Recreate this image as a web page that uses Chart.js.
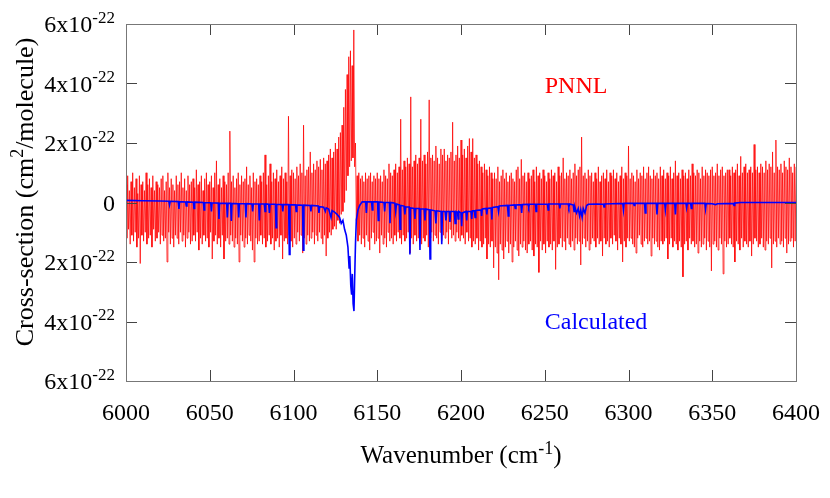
<!DOCTYPE html>
<html>
<head>
<meta charset="utf-8">
<script src="https://cdn.jsdelivr.net/npm/chart.js@4.4.1/dist/chart.umd.min.js"></script>
<style>
  body { margin: 0; background: #fff; }
  canvas { display: block; }
  #aquece { position: absolute; left: -9999px; top: 0; font-family: "Liberation Serif"; font-size: 24px; }
</style>
</head>
<body>
<canvas id="grafico" width="830" height="498"></canvas>
<div id="aquece">Wavenumber 6000 x10 PNNL Calculated</div>
<script>
// cross-section values in units of 1e-22 cm^2/molecule

// PNNL: local max / min of the measured trace, one pair per 1 cm-1
const binStart = 6000

// maxima at 6000, 6001, ... 6400
const pnnlHigh = [
  0.6, 0.9, 0.4, 0.7, 1.0, 0.5, 0.8, 0.3, 0.9, 0.6,
  0.7, 0.4, 1.0, 0.6, 0.8, 0.5, 0.9, 0.4, 0.7, 0.6,
  0.5, 0.8, 0.9, 0.4, 0.7, 1.0, 0.5, 0.8, 0.6, 0.4,
  0.9, 0.6, 0.7, 1.0, 0.5, 0.8, 0.4, 0.9, 0.6, 0.7,
  0.8, 0.5, 1.1, 0.6, 0.7, 0.9, 0.4, 0.8, 1.0, 0.6,
  0.7, 0.9, 0.5, 1.0, 1.4, 0.6, 0.8, 0.5, 0.9, 0.7,
  0.6, 1.0, 2.4, 0.7, 0.9, 0.5, 0.8, 1.0, 0.6, 0.9,
  0.7, 0.8, 1.2, 0.6, 0.9, 0.5, 1.0, 0.7, 0.8, 0.6,
  0.9, 0.7, 1.0, 1.6, 0.6, 0.9, 1.3, 0.7, 1.0, 0.8,
  1.1, 0.7, 0.9, 1.2, 0.8, 1.0, 0.7, 2.9, 0.9, 1.1,
  1.0, 0.8, 1.2, 0.9, 1.3, 1.0, 2.6, 0.9, 1.1, 1.2,
  1.7, 1.0, 1.3, 1.1, 1.4, 1.2, 1.45, 1.1, 1.5, 1.3,
  1.4, 1.6, 1.8, 1.5, 1.7, 2.0, 1.8, 2.2, 2.35, 2.6,
  3.2, 3.8, 4.3, 4.9, 5.1, 4.6, 5.8, 2.0, 0.9, 1.0,
  0.8, 0.9, 0.7, 1.0, 0.8, 0.9, 1.0, 0.7, 0.9, 0.8,
  1.0, 0.8, 0.9, 0.7, 1.1, 0.9, 0.8, 1.3, 1.0, 0.9,
  1.1, 1.3, 1.0, 1.2, 2.8, 1.1, 1.4, 1.2, 1.5, 1.3,
  3.55, 1.2, 1.4, 1.6, 1.3, 1.5, 2.8, 1.4, 1.6, 1.3,
  1.7, 3.45, 1.5, 1.6, 1.4, 1.9, 1.5, 1.3, 1.8, 1.6,
  1.8, 1.4, 1.6, 1.5, 1.7, 2.7, 1.4, 1.6, 1.9, 1.5,
  2.1, 1.6, 1.8, 1.5, 1.9, 2.15, 1.7, 2.15, 1.5, 1.6,
  1.3, 1.4, 1.2, 1.0, 1.3, 1.1, 0.9, 1.2, 1.0, 0.8,
  1.0, 0.8, 1.2, 0.7, 0.9, 1.1, 0.8, 1.0, 0.7, 0.9,
  1.0, 0.8, 0.7, 1.1, 1.2, 0.8, 1.45, 0.9, 1.0, 0.7,
  1.0, 0.8, 0.9, 1.1, 0.7, 1.2, 0.9, 1.0, 0.8, 1.1,
  0.9, 0.7, 1.0, 0.8, 1.1, 0.9, 1.0, 0.7, 1.2, 0.9,
  1.0, 1.5, 0.8, 1.0, 0.9, 1.1, 0.8, 1.0, 1.3, 0.9,
  1.1, 1.2, 2.2, 0.9, 1.0, 0.8, 1.1, 0.9, 1.0, 0.7,
  1.0, 0.8, 1.2, 0.7, 0.9, 1.0, 0.8, 1.1, 0.7, 1.0,
  0.9, 1.1, 0.8, 1.0, 0.7, 0.9, 1.2, 0.8, 1.0, 0.9,
  1.9, 0.8, 1.0, 0.9, 0.7, 1.1, 0.8, 1.0, 0.9, 1.2,
  0.8, 1.0, 1.2, 0.9, 0.8, 1.1, 0.9, 1.0, 0.8, 1.2,
  0.9, 1.1, 0.8, 1.0, 0.9, 1.2, 0.8, 1.0, 1.4, 0.9,
  1.0, 0.8, 1.1, 0.9, 1.0, 0.8, 1.1, 0.9, 1.3, 1.0,
  0.9, 1.1, 1.0, 0.8, 1.2, 0.9, 1.1, 1.0, 0.9, 1.1,
  1.2, 0.9, 1.0, 1.3, 0.9, 1.1, 1.2, 0.9, 1.0, 1.1,
  1.1, 0.9, 1.2, 1.0, 1.1, 1.3, 0.9, 1.55, 1.0, 1.2,
  1.3, 1.0, 1.1, 1.2, 1.0, 1.95, 1.1, 1.2, 1.0, 1.3,
  1.2, 1.0, 1.4, 1.1, 1.3, 1.2, 1.7, 1.0, 2.1, 1.2,
  1.1, 1.3, 1.0, 1.4, 1.2, 1.1, 1.5, 1.2, 1.0, 1.3,
  1.2
]

// minima at 6000.5, 6001.5, ... 6399.5
const pnnlLow = [
  -1.2, -0.9, -1.4, -1.1, -1.3, -1.0, -1.5, -1.2, -2.05, -1.1,
  -1.3, -1.0, -1.4, -1.2, -1.1, -1.5, -0.9, -1.3, -1.2, -1.0,
  -1.4, -1.1, -1.3, -1.2, -2.0, -1.0, -1.4, -1.2, -1.5, -1.1,
  -1.2, -1.4, -1.0, -1.3, -1.1, -1.5, -1.2, -1.0, -1.4, -1.3,
  -1.1, -1.3, -1.0, -1.6, -1.2, -1.4, -1.1, -1.3, -1.2, -1.5,
  -1.0, -1.9, -1.3, -1.1, -1.4, -1.2, -1.5, -1.1, -1.9, -1.3,
  -1.2, -1.4, -1.1, -1.3, -1.5, -1.2, -1.4, -2.0, -1.1, -1.3,
  -1.5, -1.2, -1.4, -1.1, -1.3, -1.6, -2.0, -1.2, -1.4, -1.3,
  -1.1, -1.4, -1.2, -1.5, -1.3, -1.1, -1.4, -1.2, -1.6, -1.3,
  -1.2, -1.5, -1.1, -1.9, -1.3, -1.2, -1.4, -1.1, -1.3, -1.5,
  -1.2, -1.4, -1.0, -1.3, -1.1, -1.7, -1.2, -1.4, -1.1, -1.3,
  -1.2, -1.0, -1.4, -1.1, -1.3, -1.0, -1.2, -1.4, -1.1, -1.8,
  -1.2, -1.0, -1.1, -0.9, -0.8, -0.9, -0.6, -0.7, -0.4, -0.3,
  0.0, 0.4, 0.9, 1.2, 1.4, 1.5, 1.2, -0.6, -1.3, -1.1,
  -1.4, -1.2, -1.5, -1.1, -1.3, -1.6, -1.2, -1.0, -1.4, -1.3,
  -1.2, -1.7, -1.1, -1.4, -1.2, -1.5, -1.0, -1.3, -1.2, -1.4,
  -1.1, -1.3, -1.0, -1.2, -1.4, -1.1, -1.3, -1.2, -1.0, -1.7,
  -1.2, -1.4, -1.1, -1.3, -1.2, -1.0, -1.4, -1.2, -1.3, -1.1,
  -1.5, -1.2, -1.0, -1.3, -1.1, -1.2, -1.4, -1.0, -1.3, -1.1,
  -1.2, -1.0, -1.4, -0.9, -1.2, -1.1, -1.3, -1.0, -1.2, -1.3,
  -1.1, -1.2, -1.4, -1.0, -1.3, -1.2, -1.5, -1.3, -1.4, -1.2,
  -1.6, -1.3, -1.5, -1.4, -1.2, -1.9, -1.4, -1.5, -1.3, -2.2,
  -1.5, -1.7, -2.6, -1.4, -1.6, -1.9, -1.5, -1.3, -1.7, -1.4,
  -2.0, -1.5, -1.3, -1.6, -1.8, -1.4, -1.5, -1.3, -1.6, -1.7,
  -1.4, -1.3, -1.6, -1.8, -1.4, -1.5, -2.35, -1.3, -1.6, -1.4,
  -1.7, -1.3, -1.5, -1.4, -1.6, -1.3, -2.25, -1.5, -1.4, -1.2,
  -1.5, -1.3, -1.6, -1.2, -1.4, -1.5, -1.3, -1.6, -1.2, -1.4,
  -1.3, -2.1, -1.4, -1.2, -1.5, -1.3, -1.6, -1.4, -1.2, -1.3,
  -1.5, -1.2, -1.4, -1.3, -1.8, -1.2, -1.4, -1.3, -1.5, -1.2,
  -1.4, -1.1, -1.3, -1.6, -1.2, -1.4, -2.0, -1.3, -1.5, -1.2,
  -1.3, -1.2, -1.4, -1.5, -1.7, -1.2, -1.1, -1.4, -1.5, -1.3,
  -1.2, -1.4, -1.3, -1.8, -1.2, -1.4, -1.3, -1.5, -1.6, -1.3,
  -1.4, -1.3, -1.2, -1.9, -1.4, -1.2, -1.5, -1.3, -1.4, -1.6,
  -1.3, -1.5, -2.5, -1.4, -1.3, -1.6, -1.2, -1.4, -1.3, -1.5,
  -1.4, -1.7, -1.3, -1.5, -1.4, -1.2, -1.6, -1.3, -1.5, -2.3,
  -1.4, -1.3, -1.5, -1.6, -1.2, -1.4, -2.4, -1.3, -1.5, -1.4,
  -1.2, -1.4, -1.5, -2.0, -1.3, -1.4, -1.6, -1.2, -1.5, -1.3,
  -1.4, -1.5, -1.3, -1.8, -1.4, -1.2, -1.3, -1.5, -1.4, -1.2,
  -1.5, -1.6, -1.3, -1.4, -1.2, -2.2, -1.4, -1.3, -1.5, -1.2,
  -1.4, -1.3, -1.5, -1.2, -1.7, -1.4, -1.3, -1.2, -1.5, -1.3
]

// calculated spectrum: [wavenumber, value]
const calcPoints = [
  [6000, 0.07], [6010, 0.06], [6020, 0.05],
  [6025.6, 0.04], [6026, -0.08], [6026.4, 0.04],
  [6031.2, 0.03], [6031.6, -0.22], [6032, 0.03],
  [6035.6, 0.02], [6036, -0.12], [6036.4, 0.02],
  [6040.2, 0.01], [6040.6, -0.2], [6041, 0.01],
  [6046.2, 0], [6046.6, -0.25], [6047, 0],
  [6050.6, -0.01], [6051, -0.3], [6051.4, -0.01],
  [6055.1, -0.02], [6055.5, -0.55], [6055.9, -0.02],
  [6060.1, -0.03], [6060.5, -0.5], [6060.9, -0.03],
  [6062.5, -0.03], [6062.9, -0.62], [6063.3, -0.03],
  [6066.9, -0.04], [6067.3, -0.5], [6067.7, -0.04],
  [6071.2, -0.04], [6071.6, -0.5], [6072, -0.04],
  [6075.2, -0.05], [6075.6, -0.3], [6076, -0.05],
  [6079.2, -0.05], [6079.6, -0.6], [6080, -0.05],
  [6082.6, -0.05], [6083, -0.3], [6083.4, -0.05],
  [6085.2, -0.06], [6085.6, -0.35], [6086, -0.06],
  [6089.2, -0.06], [6089.6, -0.85], [6090, -0.06],
  [6093.2, -0.07], [6093.6, -0.3], [6094, -0.07],
  [6097.1, -0.07], [6097.5, -1.75], [6097.9, -0.07],
  [6101.2, -0.08], [6101.6, -0.3], [6102, -0.08],
  [6105.4, -0.09], [6105.8, -1.6], [6106.2, -0.09],
  [6110, -0.1], [6110.4, -0.3], [6110.8, -0.1],
  [6114.8, -0.12], [6115.2, -0.35], [6115.6, -0.14],
  [6118, -0.16], [6119, -0.3], [6119.5, -0.18],
  [6121, -0.22], [6122.4, -0.5], [6123, -0.27],
  [6124.5, -0.32], [6126, -0.4], [6127.5, -0.5], [6128.5, -0.7],
  [6129.5, -0.6], [6130.5, -0.9], [6131.5, -1.1], [6132.5, -1.5],
  [6133.2, -2.2], [6133.6, -1.8], [6134.2, -2.8], [6134.7, -3.1],
  [6135.1, -2.4], [6135.6, -3.4], [6136.1, -3.65], [6136.5, -2.6],
  [6137, -1.4], [6137.5, -0.6], [6138.5, -0.25], [6139.5, -0.1], [6141, 0.02],
  [6143.1, 0.02], [6143.5, -0.35], [6143.9, 0.02],
  [6146.6, 0.02], [6147, -0.25], [6147.4, 0.02],
  [6150.2, 0.02], [6150.6, -0.6], [6151, 0.02],
  [6154, 0], [6154.4, -0.3], [6154.8, 0],
  [6157.2, 0], [6157.6, -0.7], [6158, 0],
  [6160.5, -0.02], [6161, -0.3], [6161.5, -0.05],
  [6163.2, -0.08], [6163.6, -0.9], [6164, -0.1],
  [6166, -0.12], [6166.5, -0.4], [6167, -0.15],
  [6169.1, -0.15], [6169.5, -1.75], [6169.9, -0.18],
  [6172, -0.2], [6172.5, -0.55], [6173, -0.2],
  [6175.1, -0.2], [6175.5, -1.6], [6175.9, -0.22],
  [6178, -0.22], [6178.5, -0.6], [6179, -0.22],
  [6181.1, -0.25], [6181.5, -1.9], [6181.9, -0.25],
  [6184.5, -0.28], [6185, -0.7], [6185.5, -0.28],
  [6188.1, -0.3], [6188.5, -1.4], [6188.9, -0.3],
  [6190.5, -0.3], [6191, -0.6], [6191.5, -0.3],
  [6193, -0.3], [6193.4, -0.65], [6193.8, -0.3],
  [6196, -0.3], [6196.5, -0.7], [6197, -0.3],
  [6197.9, -0.32], [6198.3, -0.55], [6198.7, -0.3],
  [6200, -0.35], [6200.4, -0.8], [6200.8, -0.35],
  [6203, -0.3], [6203.4, -0.6], [6203.8, -0.3],
  [6206, -0.3], [6206.4, -0.55], [6206.8, -0.28],
  [6208, -0.28], [6208.4, -0.5], [6208.8, -0.27],
  [6212, -0.25], [6212.3, -0.45], [6212.7, -0.22],
  [6215, -0.2], [6215.4, -0.4], [6215.8, -0.2],
  [6218, -0.18], [6218.4, -0.57], [6218.8, -0.17],
  [6222, -0.14], [6222.4, -0.3], [6222.8, -0.12],
  [6227.8, -0.1], [6228.2, -0.45], [6228.6, -0.1],
  [6232, -0.08], [6232.4, -0.2], [6232.8, -0.08],
  [6235.8, -0.07], [6236.2, -0.35], [6236.6, -0.07],
  [6240, -0.06], [6240.4, -0.15], [6240.8, -0.06],
  [6244.4, -0.06], [6244.8, -0.3], [6245.2, -0.06],
  [6251.6, -0.05], [6252, -0.25], [6252.4, -0.05],
  [6258.6, -0.05], [6259, -0.2], [6259.4, -0.05],
  [6264, -0.05], [6264.4, -0.15], [6264.8, -0.05],
  [6267, -0.08], [6267.5, -0.3], [6268, -0.15], [6269, -0.35], [6270, -0.2],
  [6270.8, -0.45], [6271.5, -0.25], [6272.3, -0.5], [6273, -0.2], [6274, -0.35],
  [6275, -0.1], [6276, -0.06],
  [6281, -0.05], [6285, -0.06], [6285.4, -0.15], [6285.8, -0.05],
  [6290, -0.04], [6296.6, -0.03], [6297, -0.25], [6297.4, -0.03],
  [6303, -0.03], [6303.4, -0.1], [6303.8, -0.03],
  [6309.6, -0.03], [6310, -0.35], [6310.4, -0.03],
  [6316.6, -0.03], [6317, -0.4], [6317.4, -0.03],
  [6321.6, -0.03], [6322, -0.25], [6322.4, -0.03],
  [6327.6, -0.03], [6328, -0.4], [6328.4, -0.03],
  [6334.3, -0.03], [6334.7, -0.18], [6335.1, -0.03],
  [6337.1, -0.03], [6337.5, -0.2], [6337.9, -0.03],
  [6345.6, -0.03], [6346, -0.22], [6346.4, -0.03],
  [6350, -0.04], [6352, -0.07], [6353, -0.04],
  [6362.6, -0.03], [6363, -0.1], [6363.4, -0.02],
  [6367, 0], [6400, 0]
]

const xTicks = [6000, 6050, 6100, 6150, 6200, 6250, 6300, 6350, 6400]
const yTicks = [-6, -4, -2, 0, 2, 4, 6]

// zigzag trace from the maxima / minima
const pnnlData = []
pnnlHigh.forEach((v, i) => {
    pnnlData.push({ x: binStart + i, y: v })
    if (i < pnnlLow.length) {
        pnnlData.push({ x: binStart + i + 0.5, y: pnnlLow[i] })
    }
})
const calcData = calcPoints.map(p => ({ x: p[0], y: p[1] }))

const serif = '"Liberation Serif", "Times New Roman", serif'

// text with superscript pieces, drawn left to right from (x, y)
function textSup(ctx, parts, x, y, size, color) {
    ctx.fillStyle = color
    let cx = x
    parts.forEach(p => {
        const s = p.sup ? Math.round(size * 0.7) : size
        ctx.font = s + 'px ' + serif
        ctx.fillText(p.t, cx, p.sup ? y - size * 0.38 : y)
        cx += ctx.measureText(p.t).width
    })
    return cx - x
}
function widthSup(ctx, parts, size) {
    let w = 0
    parts.forEach(p => {
        ctx.font = (p.sup ? Math.round(size * 0.7) : size) + 'px ' + serif
        w += ctx.measureText(p.t).width
    })
    return w
}

const moldura = {
    id: 'moldura',
    afterDatasetsDraw(chart) {
        const { ctx, chartArea: a, scales } = chart
        const x = scales.x, y = scales.y
        ctx.save()
        ctx.textBaseline = 'alphabetic'

        // ticks pointing inward on all four sides
        ctx.strokeStyle = '#444'
        ctx.lineWidth = 1
        ctx.beginPath()
        xTicks.forEach(v => {
            const px = Math.round(x.getPixelForValue(v)) + 0.5
            ctx.moveTo(px, a.bottom); ctx.lineTo(px, a.bottom - 11)
            ctx.moveTo(px, a.top); ctx.lineTo(px, a.top + 11)
        })
        yTicks.forEach(v => {
            const py = Math.round(y.getPixelForValue(v)) + 0.5
            ctx.moveTo(a.left, py); ctx.lineTo(a.left + 11, py)
            ctx.moveTo(a.right, py); ctx.lineTo(a.right - 11, py)
        })
        ctx.stroke()

        ctx.strokeStyle = '#777'
        ctx.strokeRect(Math.round(a.left) + 0.5, Math.round(a.top) + 0.5,
            Math.round(a.right - a.left), Math.round(a.bottom - a.top))

        // x tick labels
        ctx.fillStyle = '#000'
        ctx.font = '24px ' + serif
        ctx.textAlign = 'center'
        xTicks.forEach(v => {
            ctx.fillText(String(v), x.getPixelForValue(v), a.bottom + 39)
        })

        // y tick labels, right aligned
        ctx.textAlign = 'left'
        yTicks.forEach(v => {
            const py = y.getPixelForValue(v) + 8
            const parts = v === 0 ? [{ t: '0' }] :
                [{ t: Math.abs(v) + 'x10' }, { t: '-22', sup: true }]
            const w = widthSup(ctx, parts, 24)
            textSup(ctx, parts, a.left - 11 - w, py, 24, '#000')
        })

        // x title
        const xt = [{ t: 'Wavenumber (cm' }, { t: '-1', sup: true }, { t: ')' }]
        const xw = widthSup(ctx, xt, 25)
        textSup(ctx, xt, (a.left + a.right) / 2 - xw / 2, a.bottom + 82, 25, '#000')

        // y title, rotated
        const yt = [{ t: 'Cross-section (cm' }, { t: '2', sup: true }, { t: '/molecule)' }]
        const yw = widthSup(ctx, yt, 26)
        ctx.save()
        ctx.translate(33, 192)
        ctx.rotate(-Math.PI / 2)
        textSup(ctx, yt, -yw / 2, 0, 26, '#000')
        ctx.restore()

        // series labels
        ctx.font = '24px ' + serif
        ctx.textBaseline = 'middle'
        ctx.fillStyle = '#ff0000'
        ctx.fillText('PNNL', x.getPixelForValue(6250), y.getPixelForValue(4) + 3)
        ctx.fillStyle = '#0000ff'
        ctx.fillText('Calculated', x.getPixelForValue(6250), y.getPixelForValue(-4) + 1)

        ctx.restore()
    }
}

function criarGrafico() {
    const ctx = document.getElementById('grafico').getContext('2d')
    return new Chart(ctx, {
        type: 'line',
        data: {
            datasets: [{
                label: 'PNNL',
                data: pnnlData,
                borderColor: 'rgba(255, 0, 0, 0.75)',
                borderWidth: 1,
                pointRadius: 0,
                tension: 0,
                fill: false,
                order: 2
            }, {
                label: 'Calculated',
                data: calcData,
                borderColor: '#0000ff',
                borderWidth: 1.6,
                pointRadius: 0,
                tension: 0,
                fill: false,
                order: 1
            }]
        },
        options: {
            responsive: false,
            animation: false,
            layout: {
                padding: { top: 24, right: 34, left: 0, bottom: 0 }
            },
            plugins: {
                legend: { display: false },
                tooltip: { enabled: false }
            },
            scales: {
                x: {
                    type: 'linear',
                    min: 6000,
                    max: 6400,
                    ticks: { display: false, stepSize: 50 },
                    grid: { display: false, drawTicks: false },
                    border: { display: false },
                    afterFit: s => { s.height = 117 }
                },
                y: {
                    type: 'linear',
                    min: -6,
                    max: 6,
                    ticks: { display: false, stepSize: 2 },
                    grid: { display: false, drawTicks: false },
                    border: { display: false },
                    afterFit: s => { s.width = 126 }
                }
            }
        },
        plugins: [moldura]
    })
}

let grafico
document.fonts.load('24px "Liberation Serif"').then(() => {
    grafico = criarGrafico()
}, () => {
    grafico = criarGrafico()
})
</script>
</body>
</html>
